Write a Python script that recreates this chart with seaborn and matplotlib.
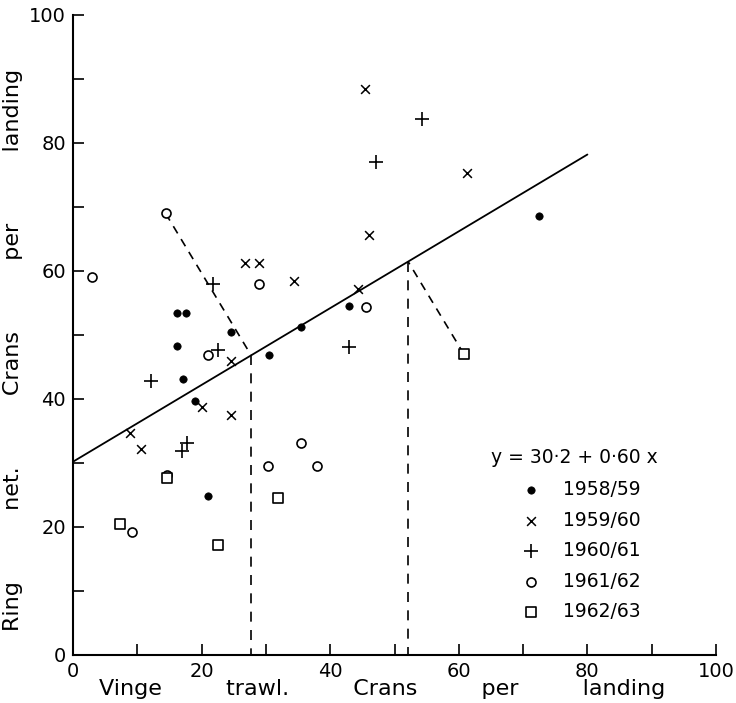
import numpy as np
import pandas as pd
import matplotlib
matplotlib.use("Agg")
import matplotlib.pyplot as plt
import seaborn as sns

# ── data ────────────────────────────────────────────────────
x_5859 = [16.2, 17.5, 16.1, 17.1, 19.0, 21.0, 24.5, 30.5, 35.5, 42.9, 72.5]
y_5859 = [53.5, 53.5, 48.3, 43.2, 39.7, 24.8, 50.4, 46.8, 51.3, 54.6, 68.6]

x_5960 = [26.7, 29.0, 34.4, 24.5, 20.1, 24.5, 8.9, 10.6, 45.4, 61.2, 46.1, 44.3]
y_5960 = [61.2, 61.2, 58.5, 46.0, 38.8, 37.5, 34.7, 32.2, 88.4, 75.3, 65.6, 57.2]

x_6061 = [21.8, 22.6, 12.1, 17.8, 16.9, 54.2, 47.2, 42.9]
y_6061 = [58.0, 47.7, 42.8, 33.1, 31.9, 83.8, 77.1, 48.2]

x_6162 = [14.4, 2.9, 29.0, 21.0, 14.6, 9.1, 35.4, 30.4, 38.0, 45.5]
y_6162 = [69.0, 59.1, 57.9, 46.8, 28.2, 19.2, 33.2, 29.5, 29.6, 54.3]

x_6263 = [14.6, 7.3, 22.5, 31.9, 60.8]
y_6263 = [27.6, 20.5, 17.2, 24.6, 47.0]

seasons = ["1958/59", "1959/60", "1960/61", "1961/62", "1962/63"]

# regression y = a + b x, drawn over 0..80
a, b = 30.2, 0.60
line_x = [0, 80]

# two points projected perpendicular onto the line
proj_pts = [(14.4, 69.0), (60.8, 47.0)]

# ── style ───────────────────────────────────────────────────
sns.set_style("ticks", {"text.color": "black", "xtick.color": "black",
                        "ytick.color": "black", "axes.labelcolor": "black",
                        "axes.edgecolor": "black"})
plt.rcParams["font.family"] = ["DejaVu Sans"]

fig = plt.figure(figsize=(7.36, 7.03), dpi=100)
ax = fig.add_axes([73 / 736, 48 / 703, 643 / 736, 640 / 703])

styles = [
    dict(marker="o", s=28, color="black", edgecolor="black", linewidth=0.5),
    dict(marker="x", s=40, color="black", linewidth=1.1),
    dict(marker="+", s=110, color="black", linewidth=1.2),
    dict(marker="o", s=42, facecolor="white", edgecolor="black", linewidth=1.2),
    dict(marker="s", s=55, facecolor="white", edgecolor="black", linewidth=1.2),
]
xs = [x_5859, x_5960, x_6061, x_6162, x_6263]
ys = [y_5859, y_5960, y_6061, y_6162, y_6263]

# regression line
lx = np.array(line_x, dtype=float)
ax.plot(lx, a + b * lx, color="black", lw=1.3, zorder=2)

# dashed perpendiculars + drop lines
for px, py in proj_pts:
    fx = (px + b * (py - a)) / (1 + b * b)
    fy = a + b * fx
    ax.plot([px, fx], [py, fy], color="black", lw=1.2, ls=(0, (5, 4)), zorder=1)
    ax.plot([fx, fx], [fy, 0], color="black", lw=1.2, ls=(0, (6, 5)), zorder=1)

for xv, yv, st, lab in zip(xs, ys, styles, seasons):
    df = pd.DataFrame({"x": xv, "y": yv})
    sns.scatterplot(data=df, x="x", y="y", ax=ax, label=lab, zorder=3, **st)

ax.set_xlim(0, 100)
ax.set_ylim(0, 100)
ax.set_xticks(np.arange(0, 101, 20))
ax.set_yticks(np.arange(0, 101, 20))
ax.set_xticks(np.arange(0, 101, 10), minor=True)
ax.set_yticks(np.arange(0, 101, 10), minor=True)
ax.tick_params(which="both", direction="in", length=8, width=1.2,
               labelsize=14, pad=5, color="black", labelcolor="black")
for sp in ["top", "right"]:
    ax.spines[sp].set_visible(False)
for sp in ["left", "bottom"]:
    ax.spines[sp].set_linewidth(1.5)

ax.set_xlabel("Vinge         trawl.         Crans         per         landing",
              fontsize=16)
ax.set_ylabel("Ring          net.          Crans          per          landing",
              fontsize=16)
ax.xaxis.set_label_coords(0.48, -0.038)
ax.yaxis.set_label_coords(-0.077, 0.477)

ax.text(0.65, 0.308, "y = 30·2 + 0·60 x", transform=ax.transAxes,
        fontsize=13.5, va="center", ha="left")
ax.legend(frameon=False, fontsize=13.5, loc="upper left",
          bbox_to_anchor=(0.657, 0.30), labelspacing=0.62,
          handletextpad=0.7, markerfirst=True)

fig.savefig("out.png", dpi=100)
